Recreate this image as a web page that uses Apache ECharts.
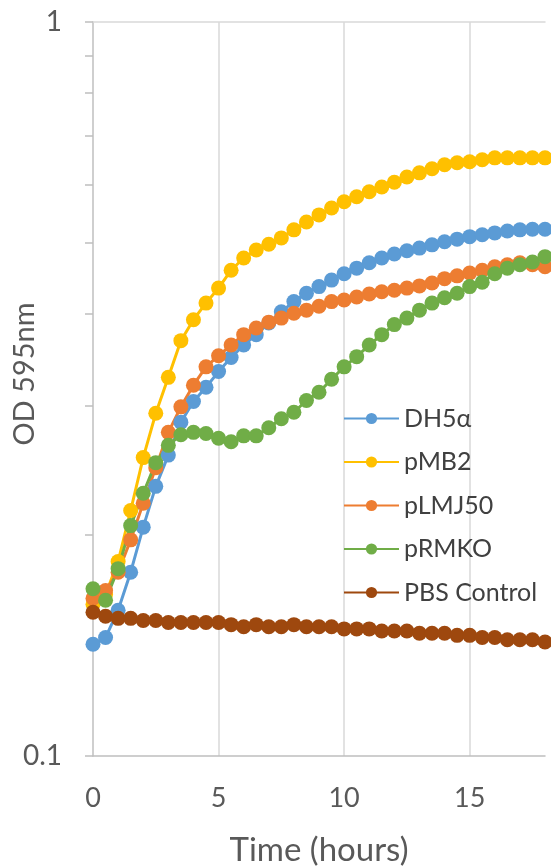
<!DOCTYPE html>
<html><head><meta charset="utf-8">
<script src="https://cdn.jsdelivr.net/npm/echarts@6/dist/echarts.min.js"></script>
<style>html,body{margin:0;padding:0;background:#fff}#c{width:551px;height:867px}</style>
</head><body><div id="c"></div>
<script>
const hours = [0,0.5,1,1.5,2,2.5,3,3.5,4,4.5,5,5.5,6,6.5,7,7.5,8,8.5,9,9.5,10,10.5,11,11.5,12,12.5,13,13.5,14,14.5,15,15.5,16,16.5,17,17.5,18];
const seriesNames = ['DH5α','pMB2','pLMJ50','pRMKO','PBS Control'];
const dh5a = [0.142,0.145,0.158,0.178,0.205,0.233,0.257,0.285,0.304,0.318,0.334,0.349,0.363,0.375,0.389,0.403,0.416,0.427,0.436,0.445,0.454,0.462,0.470,0.477,0.483,0.488,0.492,0.497,0.502,0.506,0.510,0.513,0.516,0.519,0.521,0.522,0.522];
const pmb2 = [0.161,0.166,0.184,0.216,0.255,0.293,0.328,0.368,0.393,0.414,0.434,0.459,0.477,0.489,0.498,0.508,0.521,0.534,0.546,0.558,0.569,0.578,0.587,0.596,0.605,0.615,0.623,0.631,0.639,0.643,0.645,0.649,0.653,0.653,0.653,0.653,0.653];
const plmj50 = [0.164,0.168,0.178,0.197,0.221,0.247,0.276,0.299,0.320,0.339,0.351,0.363,0.375,0.383,0.390,0.395,0.401,0.405,0.410,0.416,0.418,0.422,0.426,0.429,0.431,0.434,0.437,0.441,0.447,0.451,0.455,0.459,0.464,0.467,0.470,0.467,0.464];
const prmko = [0.169,0.163,0.180,0.206,0.228,0.251,0.265,0.274,0.276,0.275,0.271,0.268,0.273,0.273,0.280,0.288,0.294,0.305,0.313,0.326,0.339,0.350,0.363,0.375,0.387,0.395,0.405,0.414,0.421,0.427,0.436,0.442,0.454,0.462,0.467,0.471,0.479];
const pbs = [0.157,0.155,0.154,0.154,0.153,0.153,0.152,0.152,0.152,0.152,0.152,0.151,0.150,0.151,0.150,0.150,0.151,0.150,0.150,0.150,0.149,0.149,0.149,0.148,0.148,0.148,0.147,0.147,0.147,0.146,0.146,0.145,0.145,0.144,0.144,0.144,0.143];
const xTickLabels = [0,5,10,15];
const yTickLabels = [0.1,1];
const yMinorTicks = [0.1,0.2,0.3,0.4,0.5,0.6,0.7,0.8,0.9,1];

const colors = ['#5B9BD5','#FFC000','#ED7D31','#70AD47','#9E480E'];
const allValues = [dh5a,pmb2,plmj50,prmko,pbs];
const FONT = 'Lato';
const chart = echarts.init(document.getElementById('c'), null, {renderer:'canvas'});
chart.setOption({
  animation:false,
  backgroundColor:'#fff',
  grid:{left:93,right:6,top:22,bottom:111,outerBoundsMode:'none'},
  legend:{
    orient:'vertical', left:343, top:406, padding:0, itemWidth:55, itemHeight:14, itemGap:18.5,
    data: seriesNames,
    textStyle:{fontSize:25, lineHeight:24, color:'#404040', fontFamily:FONT}
  },
  xAxis:[{
    type:'value', min:0, max:18, interval:5,
    axisLine:{show:true, onZero:false, lineStyle:{color:'#bfbfbf', width:1.5}},
    axisTick:{show:false},
    axisLabel:{color:'#595959', fontSize:27, fontFamily:FONT, margin:29, customValues:xTickLabels},
    splitLine:{show:true, showMinLine:false, showMaxLine:false, lineStyle:{color:'#d9d9d9', width:1.5}},
    name:'Time (hours)', nameLocation:'middle', nameGap:78, nameMoveOverlap:false,
    nameTextStyle:{color:'#595959', fontSize:33, fontFamily:FONT}
  },{
    type:'value', position:'top', min:0, max:18,
    axisLine:{show:true, lineStyle:{color:'#d9d9d9', width:1.5}},
    axisTick:{show:false}, axisLabel:{show:false}, splitLine:{show:false}
  }],
  yAxis:{
    type:'log', logBase:10, min:0.1, max:1,
    axisLine:{show:true, lineStyle:{color:'#bfbfbf', width:1.5}},
    axisTick:{show:true, inside:false, length:8, customValues:yMinorTicks, lineStyle:{color:'#bfbfbf', width:1.5}},
    axisLabel:{color:'#595959', fontSize:28, fontFamily:FONT, margin:31, customValues:yTickLabels},
    splitLine:{show:false},
    name:'OD 595nm', nameLocation:'middle', nameGap:54, nameRotate:90, nameMoveOverlap:false,
    nameTextStyle:{color:'#595959', fontSize:29, fontFamily:FONT, padding:[0,0,0,30]}
  },
  series: seriesNames.map((n,k)=>({
    name:n, type:'line', xAxisIndex:0,
    data: hours.map((h,i)=>[h, allValues[k][i]]),
    symbol:'circle', symbolSize:15, showSymbol:true,
    color: colors[k],
    lineStyle:{width:3, color:colors[k]},
    itemStyle:{color:colors[k]},
    emphasis:{disabled:true}
  }))
});
</script></body></html>
